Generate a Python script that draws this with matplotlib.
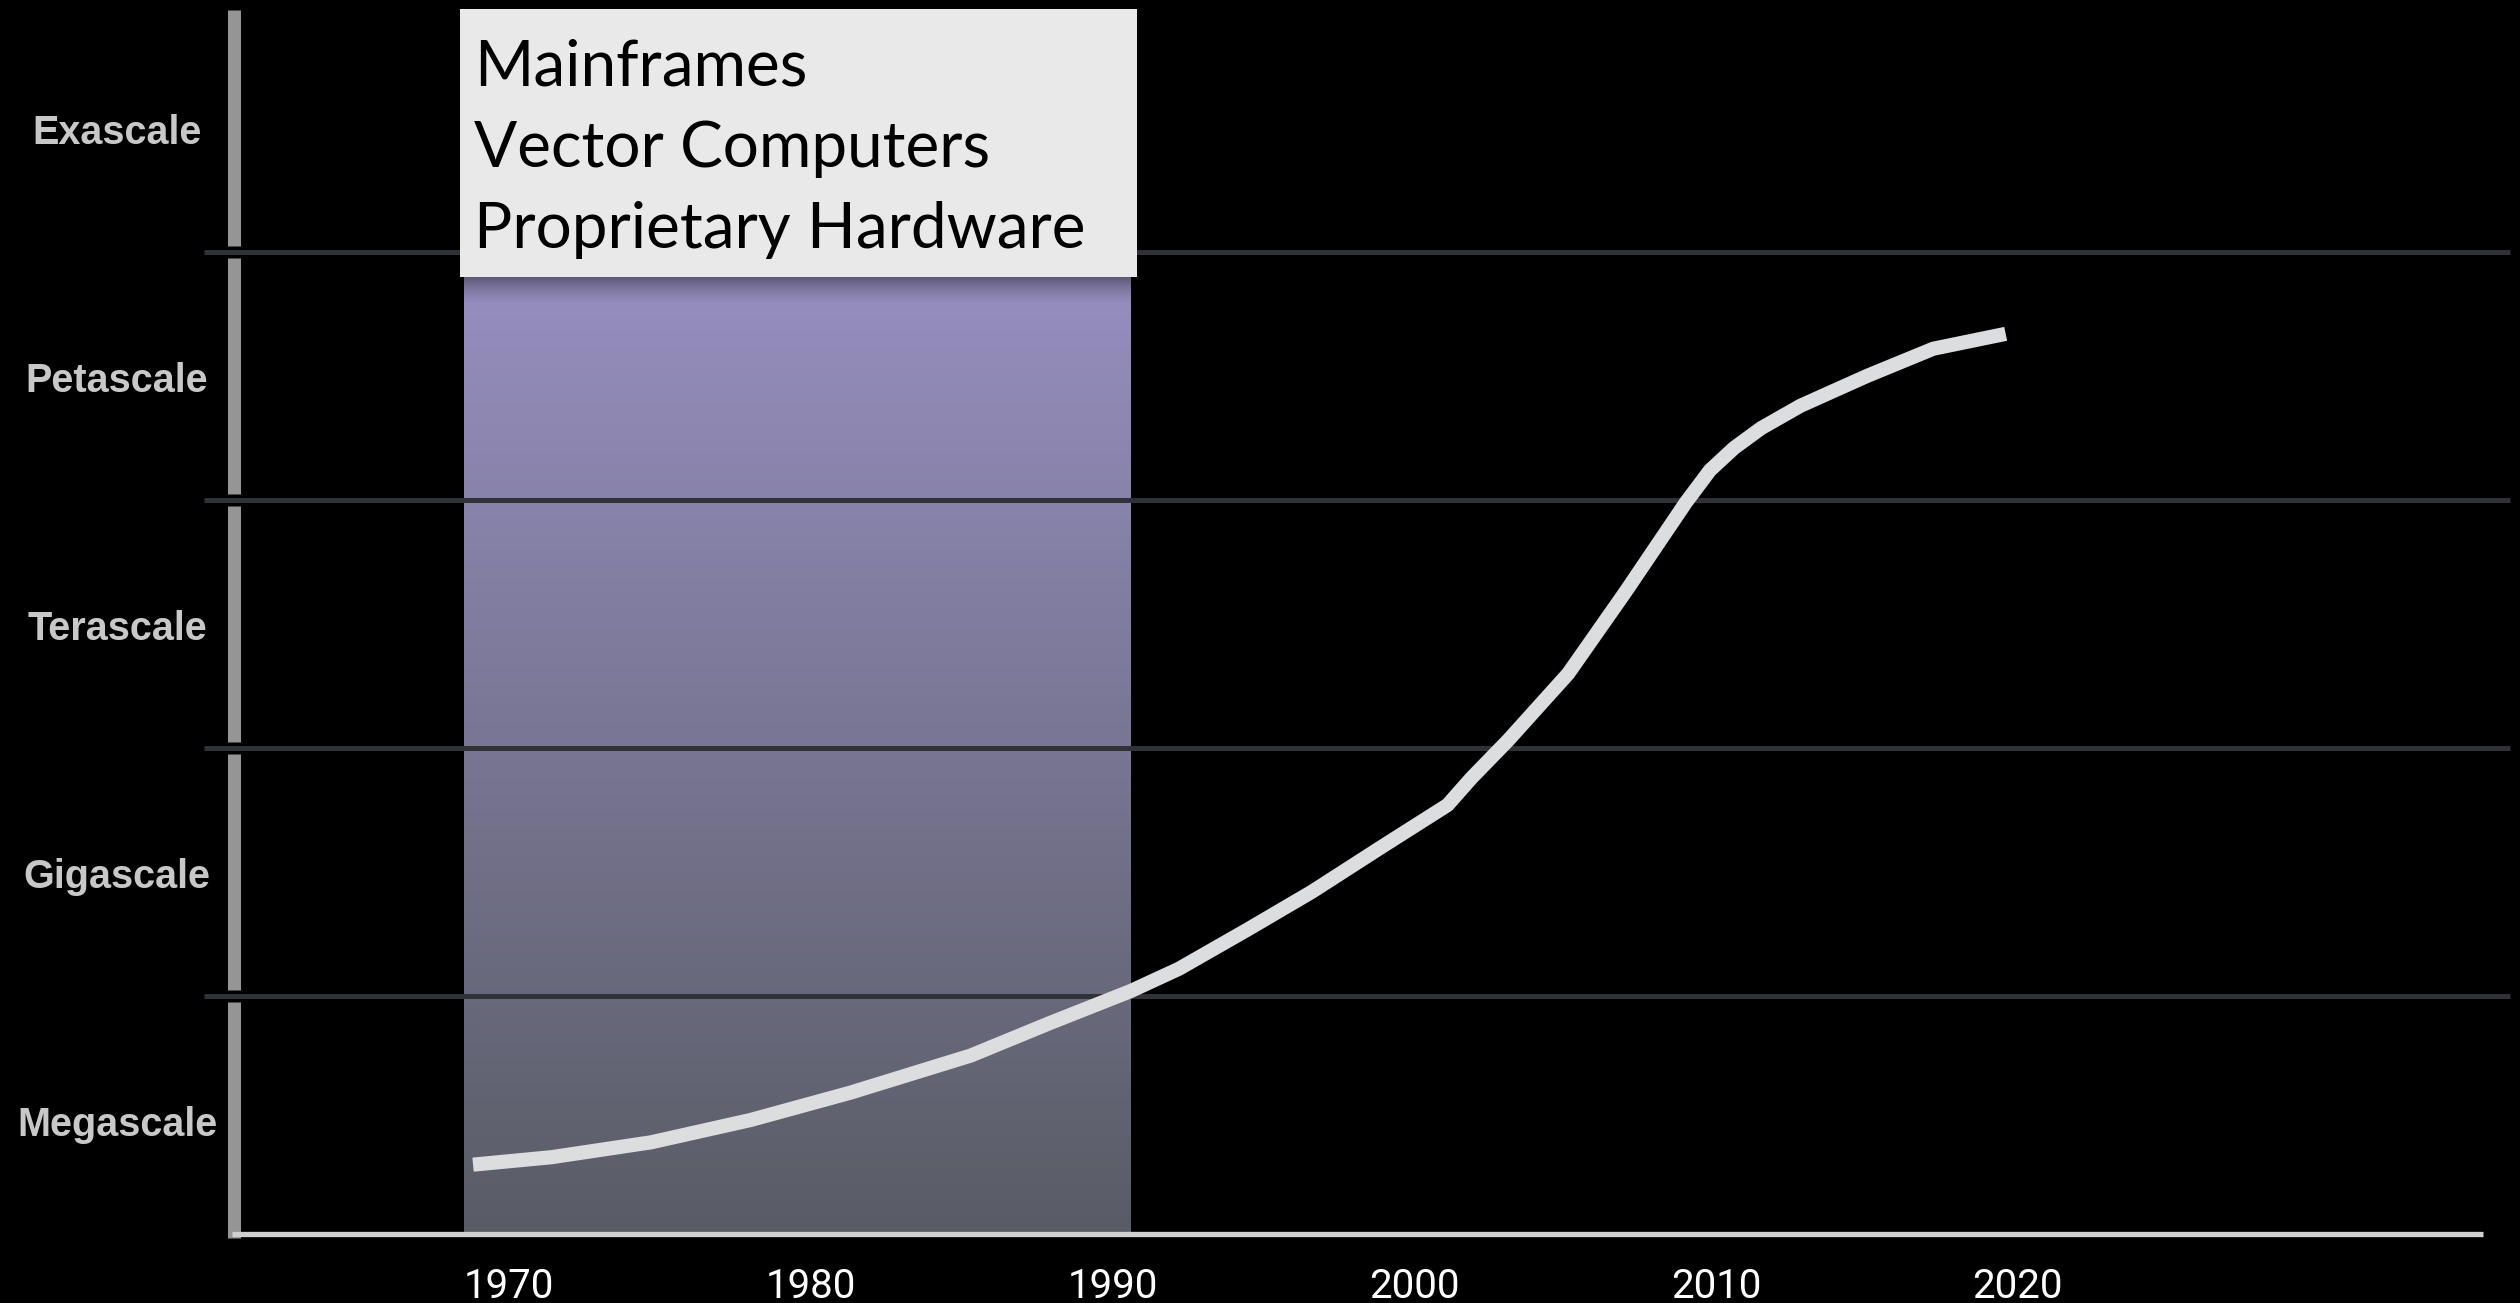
import numpy as np
import matplotlib
matplotlib.use("Agg")
import matplotlib.pyplot as plt
from matplotlib.patches import Rectangle

# performance bands, bottom to top
bands = ["Megascale", "Gigascale", "Terascale", "Petascale", "Exascale"]

# era shown in the highlighted column
era_lines = ["Mainframes", "Vector Computers", "Proprietary Hardware"]
era_start = 1968.5
era_end = 1990.6

# growth curve: year vs. band level (1 unit = one band)
years = [1968.8, 1971.4, 1974.7, 1978.0, 1981.3, 1985.3, 1987.9, 1990.6,
         1992.2, 1994.5, 1996.6, 1998.9, 2001.1, 2001.9, 2003.1, 2005.1,
         2007.0, 2009.0, 2009.8, 2010.6, 2011.5, 2012.8, 2015.0, 2017.2,
         2019.6]
level = [0.32, 0.35, 0.41, 0.50, 0.61, 0.76, 0.89, 1.02,
         1.11, 1.27, 1.42, 1.60, 1.77, 1.88, 2.03, 2.30,
         2.63, 2.99, 3.12, 3.21, 3.29, 3.38, 3.50, 3.61,
         3.67]

tick_years = [1970, 1980, 1990, 2000, 2010, 2020]

W, H = 2520, 1303
DPI = 100

# pixel <-> data mapping for an axes covering the whole canvas
SX = 30.17      # px per year
X_MID = 1995.0
PX_MID = 1263.5
SY = 248.0      # px per band
PY0 = 1244.0    # pixel row of level 0


def xd(px):
    return X_MID + (px - PX_MID) / SX


def yd(py):
    return (PY0 - py) / SY


fig = plt.figure(figsize=(W / DPI, H / DPI), dpi=DPI, facecolor="black")
ax = fig.add_axes([0, 0, 1, 1])
ax.set_facecolor("black")
ax.set_xlim(xd(0), xd(W))
ax.set_ylim(yd(H), yd(0))
ax.axis("off")

axis_y = yd(1233.5)

# highlighted era column with vertical gradient
top_c = np.array([152, 144, 194]) / 255
bot_c = np.array([89, 92, 101]) / 255
t = np.linspace(0, 1, 256)[:, None]
grad = top_c * (1 - t) + bot_c * t
ax.imshow(grad[:, None, :], extent=(era_start, era_end, axis_y, 4.0),
          aspect="auto", interpolation="bilinear", zorder=1)

# drop shadow under the label box
sh = np.zeros((64, 1, 4))
sh[:, 0, 3] = np.linspace(0.55, 0.0, 64) ** 1.5
ax.imshow(sh, extent=(era_start, era_end, yd(305), yd(277)),
          aspect="auto", interpolation="bilinear", zorder=2)

# band separators
ax.hlines([1, 2, 3, 4], xd(204), xd(2510), color="#2f3236", lw=3.6, zorder=3)

# left scale bar, split at each band boundary
for k in range(len(bands)):
    ax.vlines(xd(233.5), k + 0.026, k + 0.976, color="#959595", lw=9.4,
              zorder=4, capstyle="butt")

# bottom axis
ax.hlines(axis_y, xd(232), xd(2483), color="#d0d0d0", lw=3.8, zorder=4)

# growth curve
ax.plot(years, level, color="#dcdddf", lw=10.2, solid_capstyle="butt",
        solid_joinstyle="round", zorder=5)

# label box
ax.add_patch(Rectangle((xd(460), yd(277)), xd(1137) - xd(460),
                       yd(9) - yd(277), facecolor="#e9e9e9",
                       edgecolor="none", zorder=6))
baselines = [85, 167, 248]
txts = []
for line, by in zip(era_lines, baselines):
    txts.append(ax.text(xd(474), yd(by), line, fontsize=52, color="black",
                        family=["Lato", "DejaVu Sans"], ha="left",
                        va="baseline", zorder=7))
# fit the longest line to its width
fig.canvas.draw()
r = fig.canvas.get_renderer()
wlong = txts[2].get_window_extent(r).width
fs = 52 * 612.0 / wlong
for tx in txts:
    tx.set_fontsize(fs)

# band names
for k, name in enumerate(bands):
    ax.text(xd(117), k + 0.48, name, fontsize=28.5, fontweight="bold",
            color="#c8c8c8", family=["Liberation Sans", "DejaVu Sans"],
            ha="center", va="center", zorder=7)

# year labels
for yr in tick_years:
    ax.text(yr, yd(1287), str(yr), fontsize=29, fontweight="normal",
            color="white", family=["Roboto", "DejaVu Sans"],
            ha="center", va="center", zorder=7)

fig.savefig("out.png", dpi=DPI, facecolor="black")
